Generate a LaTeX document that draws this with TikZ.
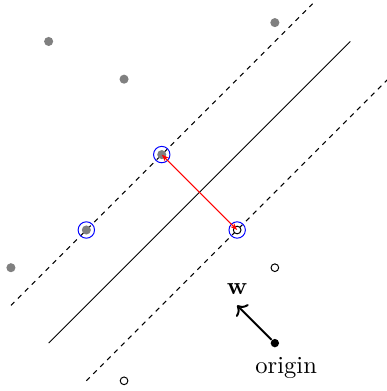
\documentclass[tikz,border=0pt]{standalone}
\usepackage{tikz}
\usetikzlibrary{arrows.meta}
\tikzset{
  posdot/.style={
    circle, fill=gray, inner sep=0pt, minimum size=0.13cm
  },
  negdot/.style={
    circle, draw=black, fill=white, thin, inner sep=0pt, minimum size=0.11cm
  },
  svring/.style={
    circle, draw=blue, thin, inner sep=0pt, minimum size=0.235cm
  },
  marginline/.style={
    thin, dash pattern=on 2pt off 2pt
  },
  hyperplane/.style={thin},
}

\begin{document}
\begin{tikzpicture}[x=0.54cm, y=0.54cm]
  \useasboundingbox (-7.29,-1.27) rectangle (2.97,9.10);

  % Separating hyperplane and margins
  \draw[hyperplane] (-6,0) -- (2,8);
  \draw[marginline] (-7,1) -- (1,9);
  \draw[marginline] (-5,-1) -- (3,7);

  % Positive class
  \node[posdot] (p1) at (-6,8) {};
  \node[posdot] (p2) at (-4,7) {};
  \node[posdot] (p3) at (0,8.5) {};
  \node[posdot] (p4) at (-7,2) {};
  \node[posdot] (p5) at (-3,5) {};
  \node[posdot] (p6) at (-5,3) {};

  % Negative class
  \node[negdot] (n1) at (0,2) {};
  \node[negdot] (n2) at (-4,-1) {};
  \node[negdot] (n3) at (-1,3) {};

  % Support vectors
  \node[svring] (sv1) at (p5) {};
  \node[svring] (sv2) at (p6) {};
  \node[svring] (sv3) at (n3) {};

  % Margin width
  \draw[red, {Stealth[length=3pt]}-{Stealth[length=3pt]}] (n3.center) -- (p5.center);

  % Normal vector
  \node[circle, fill=black, inner sep=0pt, minimum size=0.12cm] (orig) at (0,0) {};
  \coordinate (wtip) at (-1,1);
  \draw[thick, ->] (orig) -- (wtip);
  \node[above=1pt] (wlbl) at (wtip) {$\mathbf{w}$};
  \node (olbl) at (0.3,-0.65) {origin};
\end{tikzpicture}
\end{document}
